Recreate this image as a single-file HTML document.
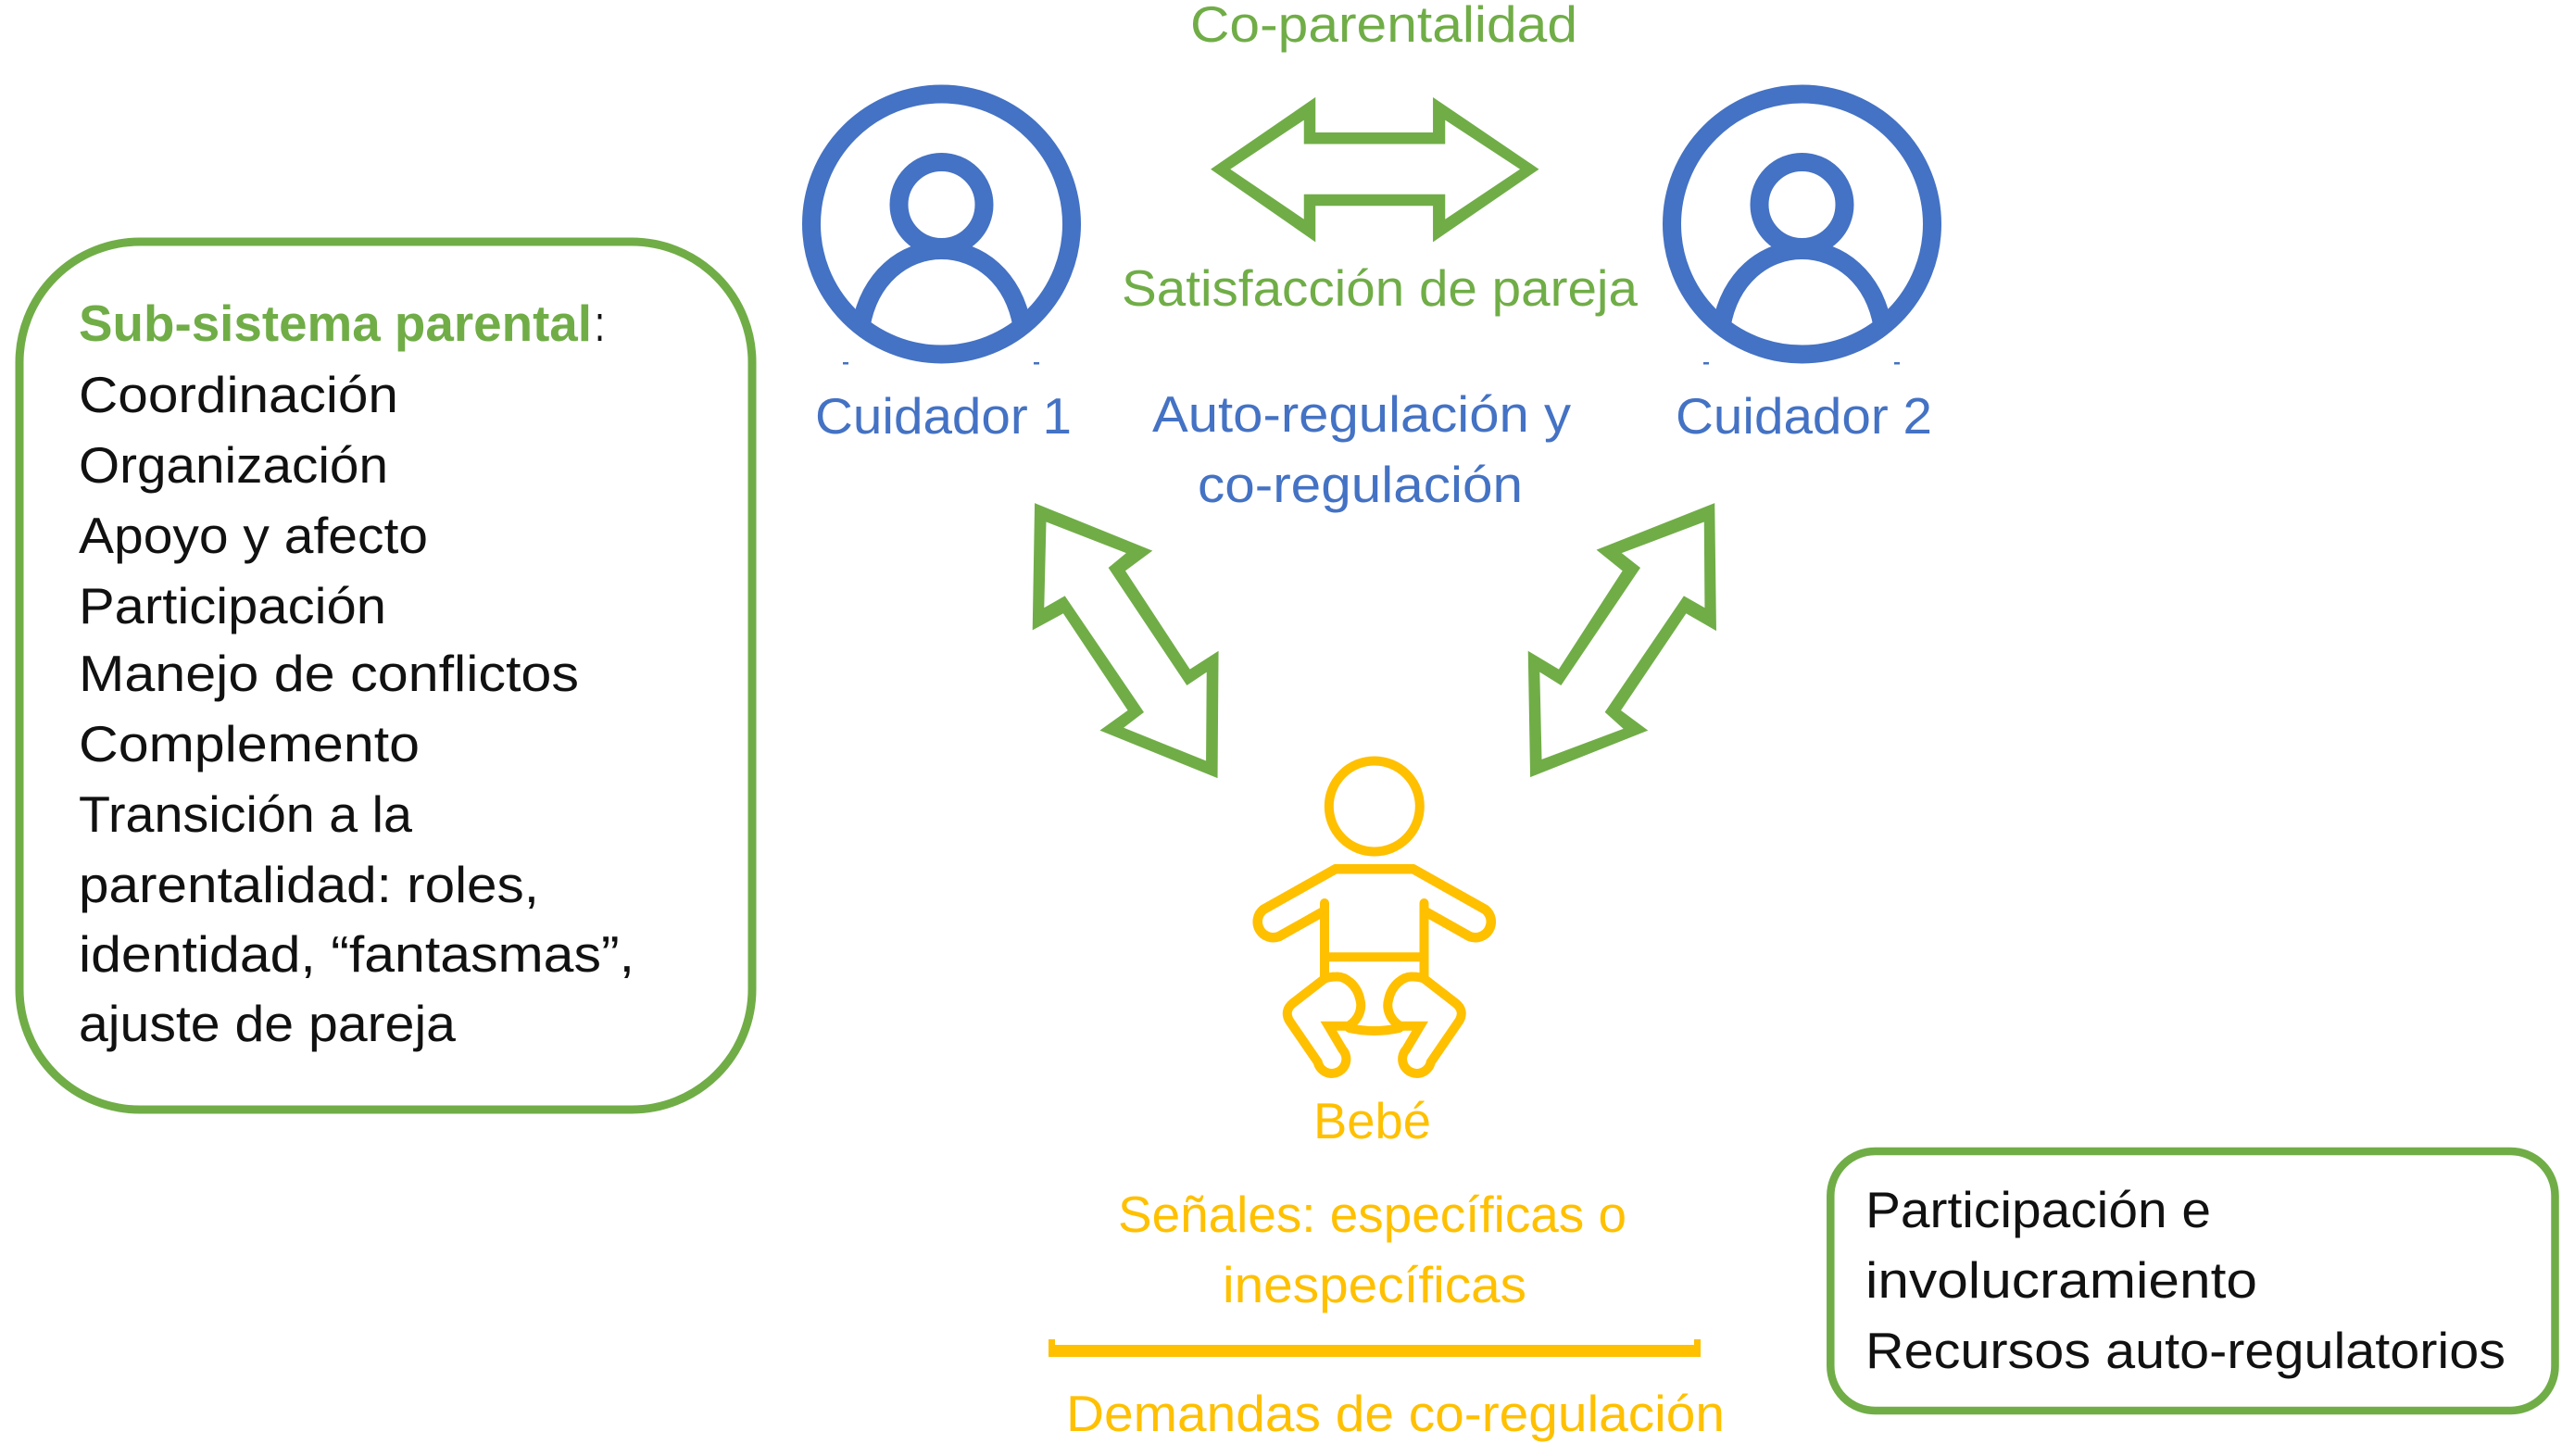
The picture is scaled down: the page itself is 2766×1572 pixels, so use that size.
<!DOCTYPE html>
<html lang="es">
<head>
<meta charset="utf-8">
<title>Sistema parental</title>
<style>
html,body{margin:0;padding:0;background:#fff;}
svg{display:block;}
text{font-family:"Liberation Sans",sans-serif;font-size:55px;}
.g{fill:#70AD47}.b{fill:#4472C4}.y{fill:#FFC000}.k{fill:#111}
</style>
</head>
<body>
<svg xmlns="http://www.w3.org/2000/svg" width="2766" height="1572" viewBox="0 0 2766 1572">
<rect width="2766" height="1572" fill="#fff"/>

<!-- Boxes -->
<rect x="21" y="261" width="791" height="937" rx="130" ry="130" fill="none" stroke="#70AD47" stroke-width="9"/>
<rect x="1976.3" y="1243" width="782.2" height="280" rx="48" ry="48" fill="none" stroke="#70AD47" stroke-width="8.5"/>

<!-- Left box text -->
<text class="g" x="85" y="368" style="font-weight:bold" textLength="554" lengthAdjust="spacingAndGlyphs">Sub-sistema parental</text>
<text class="k" x="642" y="368" textLength="11" lengthAdjust="spacingAndGlyphs">:</text>
<text class="k" x="85" y="445" textLength="345" lengthAdjust="spacingAndGlyphs">Coordinación</text>
<text class="k" x="85" y="521" textLength="334" lengthAdjust="spacingAndGlyphs">Organización</text>
<text class="k" x="85" y="597" textLength="377" lengthAdjust="spacingAndGlyphs">Apoyo y afecto</text>
<text class="k" x="85" y="673" textLength="332" lengthAdjust="spacingAndGlyphs">Participación</text>
<text class="k" x="85" y="746" textLength="540" lengthAdjust="spacingAndGlyphs">Manejo de conflictos</text>
<text class="k" x="85" y="822" textLength="368" lengthAdjust="spacingAndGlyphs">Complemento</text>
<text class="k" x="85" y="898" textLength="360" lengthAdjust="spacingAndGlyphs">Transición a la</text>
<text class="k" x="85" y="974" textLength="497" lengthAdjust="spacingAndGlyphs">parentalidad: roles,</text>
<text class="k" x="85" y="1049" textLength="600" lengthAdjust="spacingAndGlyphs">identidad, “fantasmas”,</text>
<text class="k" x="85" y="1124" textLength="407" lengthAdjust="spacingAndGlyphs">ajuste de pareja</text>

<!-- Right box text -->
<text class="k" x="2014" y="1325" textLength="373" lengthAdjust="spacingAndGlyphs">Participación e</text>
<text class="k" x="2014" y="1401" textLength="423" lengthAdjust="spacingAndGlyphs">involucramiento</text>
<text class="k" x="2014" y="1477" textLength="691" lengthAdjust="spacingAndGlyphs">Recursos auto-regulatorios</text>

<!-- Person icons -->
<g fill="none" stroke="#4472C4">
  <circle cx="1016.5" cy="242" r="140.5" stroke-width="20"/>
  <circle cx="1016.5" cy="221" r="46" stroke-width="20"/>
  <path d="M929.5 352C938.5 300 975.5 270 1016.5 270C1057.5 270 1094.5 300 1103.5 352" stroke-width="20"/>
  <rect x="910" y="391" width="6" height="2.5" fill="#4472C4" stroke="none"/>
  <rect x="1116" y="391" width="6" height="2.5" fill="#4472C4" stroke="none"/>
</g>
<g fill="none" stroke="#4472C4">
  <circle cx="1945.5" cy="242" r="140.5" stroke-width="20"/>
  <circle cx="1945.5" cy="221" r="46" stroke-width="20"/>
  <path d="M1858.5 352C1867.5 300 1904.5 270 1945.5 270C1986.5 270 2023.5 300 2032.5 352" stroke-width="20"/>
  <rect x="1839" y="391" width="6" height="2.5" fill="#4472C4" stroke="none"/>
  <rect x="2045" y="391" width="6" height="2.5" fill="#4472C4" stroke="none"/>
</g>

<!-- Top labels -->
<text class="g" x="1285" y="45" textLength="418" lengthAdjust="spacingAndGlyphs">Co-parentalidad</text>
<text class="g" x="1211" y="330" textLength="557" lengthAdjust="spacingAndGlyphs">Satisfacción de pareja</text>
<text class="b" x="880" y="468" textLength="277" lengthAdjust="spacingAndGlyphs">Cuidador 1</text>
<text class="b" x="1809" y="468" textLength="277" lengthAdjust="spacingAndGlyphs">Cuidador 2</text>
<text class="b" x="1244" y="466" textLength="452" lengthAdjust="spacingAndGlyphs">Auto-regulación y</text>
<text class="b" x="1293" y="542" textLength="351" lengthAdjust="spacingAndGlyphs">co-regulación</text>

<!-- Arrows -->
<g fill="#70AD47" fill-rule="evenodd" stroke="#70AD47" stroke-width="2.5" stroke-miterlimit="10">
  <path d="M1309.3 182.7L1419 107.3V144.3H1548.3V107.3L1659.3 182.7L1548.3 259V221H1419V259Z
           M1326 182.7L1409 127.3V154.3H1559V127.3L1643.3 182.7L1559 239V211H1409V239Z"/>
  <path d="M1118.3 545L1241.7 595L1213.3 616L1284.3 724.3L1314.3 705L1313.3 838.3L1190 788.3L1219.3 767.3L1148.3 660.7L1116 678.3Z
           M1128.3 561.7L1218.3 596.7L1198.3 613.3L1281.7 738.3L1304 723.3L1303.3 823.3L1210.7 786L1233.3 768.7L1149.3 645L1126 658.3Z"/>
  <path d="M1850 545L1851.7 679L1820 660.7L1748.3 767.3L1776.7 788.3L1653.3 837.3L1651 705L1683.3 724.3L1753.3 616L1726 594Z
           M1841 561.7L1841.7 658.3L1818.3 645L1734.3 768.7L1755 787.3L1663.3 821.7L1661 723.3L1685 738.3L1769.3 613.3L1748.3 596.7Z"/>
</g>

<!-- Baby -->
<g fill="none" stroke="#FFC000" stroke-width="10" stroke-linecap="round" stroke-linejoin="round">
  <circle cx="1483.8" cy="870.5" r="49" stroke-width="10"/>
  <path d="M1430 975V1056.7M1537.5 975V1056.7M1430 1033.3H1537.5"/>
  <path d="M1429 984L1381 1011A17 17 0 0 1 1364 982L1441.7 938.3H1525.8L1603.5 982A17 17 0 0 1 1586.5 1011L1538.5 984" stroke-width="10.5"/>
  <g stroke-linejoin="miter" stroke-miterlimit="6">
    <path d="M1430 1056.7L1396 1083Q1386 1091 1392 1102L1422.7 1146.7A15.5 15.5 0 1 0 1449.3 1133L1434.3 1107.7H1456C1468 1100 1471 1088 1468.3 1079C1465 1063 1452 1054 1443 1054.5C1438 1054.5 1434 1055 1430 1056.7"/>
    <path d="M1537.5 1056.7L1571.5 1083Q1581.5 1091 1575.5 1102L1544.8 1146.7A15.5 15.5 0 1 1 1518.2 1133L1533.2 1107.7H1511.5C1499.5 1100 1496.5 1088 1499.2 1079C1502.5 1063 1515.5 1054 1524.5 1054.5C1529.5 1054.5 1533.5 1055 1537.5 1056.7"/>
  </g>
  <path d="M1456.7 1110Q1483.7 1116 1510.7 1110"/>
</g>

<text class="y" x="1418" y="1229" textLength="127" lengthAdjust="spacingAndGlyphs">Bebé</text>
<text class="y" x="1207" y="1330" textLength="549" lengthAdjust="spacingAndGlyphs">Señales: específicas o</text>
<text class="y" x="1320" y="1406" textLength="328" lengthAdjust="spacingAndGlyphs">inespecíficas</text>
<text class="y" x="1151" y="1545" textLength="711" lengthAdjust="spacingAndGlyphs">Demandas de co-regulación</text>

<!-- Bracket -->
<path d="M1132 1446H1139V1452H1829V1446H1836V1465H1132Z" fill="#FFC000"/>
</svg>
</body>
</html>
